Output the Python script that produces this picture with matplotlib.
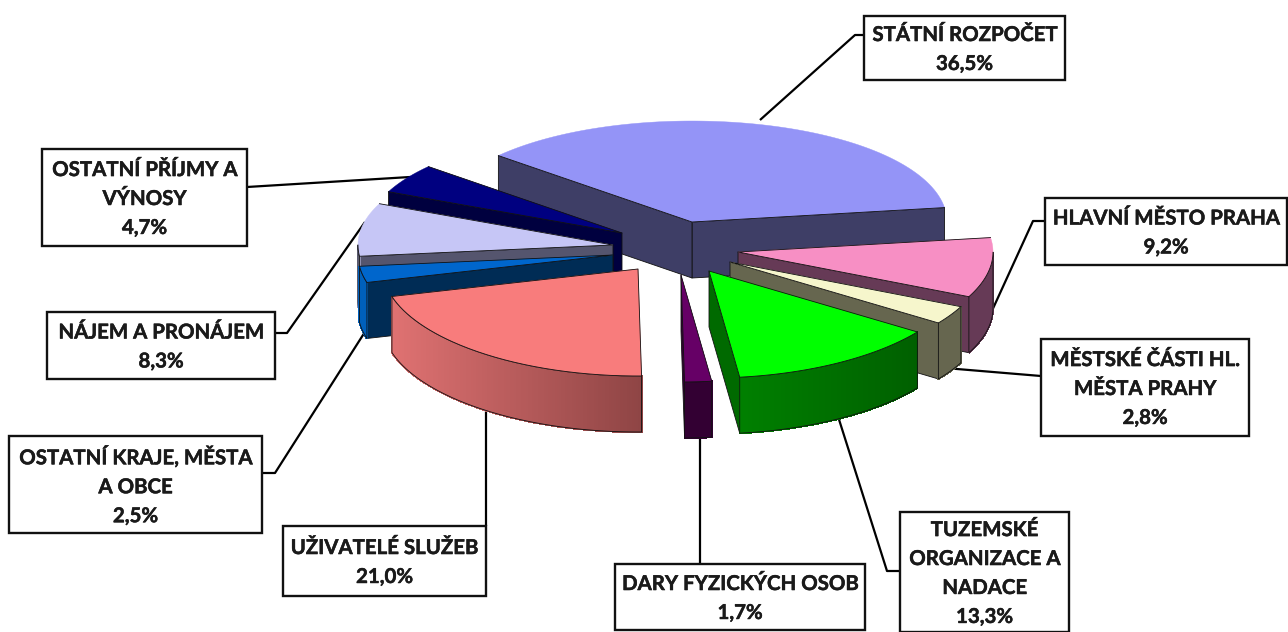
import numpy as np
import matplotlib
matplotlib.use("Agg")
import matplotlib.pyplot as plt
import matplotlib.patheffects as pe
from matplotlib.patches import Polygon, Rectangle
from matplotlib.colors import to_rgb

# ---- data ----
categories = ["STÁTNÍ ROZPOČET", "OSTATNÍ PŘÍJMY A\nVÝNOSY", "NÁJEM A PRONÁJEM",
              "OSTATNÍ KRAJE, MĚSTA\nA OBCE", "UŽIVATELÉ SLUŽEB", "DARY FYZICKÝCH OSOB",
              "TUZEMSKÉ\nORGANIZACE A\nNADACE", "MĚSTSKÉ ČÁSTI HL.\nMĚSTA PRAHY", "HLAVNÍ MĚSTO PRAHA"]
values = [36.5, 4.7, 8.3, 2.5, 21.0, 1.7, 13.3, 2.8, 9.2]

# ---- style / layout ----
top_colors = ["#9494F7", "#000080", "#C6C6F6", "#0066CC", "#F87C7C", "#660066", "#00FF00", "#F6F6CC", "#F78FC4"]
cut_colors = ["#3E3E66", "#00003F", "#55556E", "#002C55", "#DC6E6E", "#330033", "#006A00", "#66664F", "#663A56"]
side_left = ["#3E3E66", "#00003F", "#9090B0", "#0060BC", "#E07272", "#330033", "#008000", "#66664F", "#663A56"]
side_right = ["#3E3E66", "#00003F", "#9090B0", "#0060BC", "#8F4545", "#330033", "#006000", "#66664F", "#663A56"]
apex_x = [692, 622, 613, 613, 638, 681, 709, 730, 738]
apex_y = [222, 233, 245, 255, 269, 275, 271, 262, 252]
START = 8.0
RX, RY, PERSP, H = 255.0, 104.0, 3.0, 56.0

box_xywh = [(864, 16, 201, 64), (42, 149, 205, 97), (47, 312, 228, 67), (9, 436, 253, 97),
            (283, 526, 203, 70), (615, 564, 250, 66), (900, 512, 169, 120), (1041, 339, 208, 97),
            (1045, 198, 242, 67)]
leaders = [[(864, 35), (855, 35), (760, 120)],
           [(247, 187), (410, 177)],
           [(275, 333), (287, 333), (365, 222)],
           [(262, 473), (275, 473), (370, 324)],
           [(486, 526), (486, 405)],
           [(700, 564), (700, 430)],
           [(900, 571), (887, 571), (836, 410)],
           [(1041, 376), (945, 368)],
           [(1045, 221), (1033, 221), (985, 326)]]

plt.rcParams['font.family'] = ['Lato', 'DejaVu Sans']
fig = plt.figure(figsize=(12.88, 6.32), dpi=100)
ax = fig.add_axes([0, 0, 1, 1])
ax.set_xlim(0, 1288)
ax.set_ylim(632, 0)
ax.axis("off")


def rim(ang_deg, i, z=0.0):
    a = np.radians(ang_deg)
    s = np.sin(a)
    return np.column_stack([apex_x[i] + RX * np.cos(a) * np.ones_like(s),
                            apex_y[i] - s * (RY - PERSP * s) + z])


sweep = np.array(values) / np.sum(values) * 360.0
starts = START + np.concatenate([[0], np.cumsum(sweep)[:-1]])
mids = starts + sweep / 2
order = np.argsort(-np.sin(np.radians(mids)))
EDGE = dict(edgecolor="#111111", linewidth=0.6, joinstyle="round")

for zbase, i in enumerate(order):
    a1, a2 = starts[i], starts[i] + sweep[i]
    zo = 2 + zbase
    apex = np.array([[apex_x[i], apex_y[i]]], float)
    down = np.array([0, H])
    # straight cut faces that face the viewer
    for ang, normal in ((a1, a1 - 90), (a2, a2 + 90)):
        if np.sin(np.radians(normal)) < 0:
            tip = rim(np.array([ang]), i)
            quad = np.vstack([apex, tip, tip + down, apex + down])
            ax.add_patch(Polygon(quad, closed=True, facecolor=cut_colors[i], zorder=zo, **EDGE))
    # outer curved wall, front half only
    angs = np.linspace(a1, a2, max(int(sweep[i] * 2), 4))
    front = angs[np.sin(np.radians(angs)) < 0]
    if len(front) > 1:
        pts = rim(front, i)
        cl, cr = np.array(to_rgb(side_left[i])), np.array(to_rgb(side_right[i]))
        xs = pts[:, 0]
        for k in range(len(front) - 1):
            t = (0.5 * (xs[k] + xs[k + 1]) - xs.min()) / max(xs.max() - xs.min(), 1)
            c = cl + (cr - cl) * t
            q = np.vstack([pts[k], pts[k + 1], pts[k + 1] + down, pts[k] + down])
            ax.add_patch(Polygon(q, closed=True, facecolor=c, edgecolor=c, linewidth=0.8,
                                 antialiased=False, zorder=zo))
        outline = np.vstack([pts, (pts + down)[::-1]])
        ax.add_patch(Polygon(outline, closed=True, fill=False, zorder=zo, **EDGE))
    # top face: the far arc carries no outline
    angs = np.linspace(a1, a2, max(int(sweep[i] * 2), 6))
    arc = rim(angs, i)
    ax.add_patch(Polygon(np.vstack([apex, arc]), closed=True, facecolor=top_colors[i],
                         edgecolor=top_colors[i], linewidth=0.3, zorder=zo))
    ax.plot(*np.vstack([arc[0], apex, arc[-1]]).T, color="#111111", lw=0.6, zorder=zo)
    near = np.sin(np.radians(angs)) < 0
    if near.sum() > 1:
        ax.plot(*arc[near].T, color="#111111", lw=0.6, zorder=zo)

# leader lines
for pl in leaders:
    p = np.array(pl)
    ax.plot(p[:, 0], p[:, 1], color="black", lw=1.6, zorder=1, solid_capstyle="butt")

# labels
for name, val, (x, y, w, h) in zip(categories, values, box_xywh):
    ax.add_patch(Rectangle((x, y), w, h, facecolor="white", edgecolor="#111111", lw=1.7, zorder=30))
    label = name + "\n" + f"{val:.1f}".replace(".", ",") + "%"
    ax.text(x + w / 2, y + h / 2 + 1.5, label, ha="center", va="center", fontsize=14.7,
            fontweight="bold", color="#1a1a1a", linespacing=1.56, zorder=31,
            path_effects=[pe.withStroke(linewidth=0.35, foreground="#1a1a1a")])

fig.savefig("out.png", dpi=100, facecolor="white")
